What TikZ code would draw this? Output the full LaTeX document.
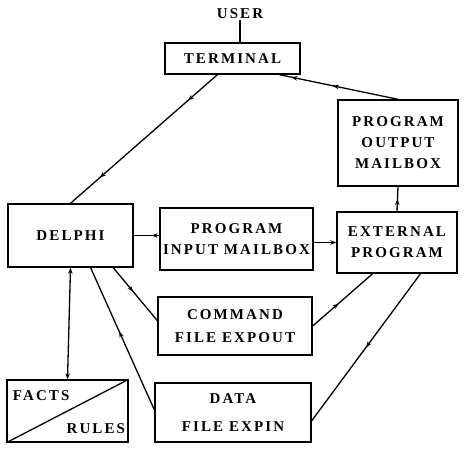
\documentclass[tikz,border=0pt]{standalone}
\usepackage{fontspec}
\setmainfont{Liberation Serif}[LetterSpace=14]
\usetikzlibrary{arrows.meta,decorations.markings}

\tikzset{
  lbl/.style={font=\bfseries\fontsize{15}{21}\selectfont, align=center, inner sep=0pt},
  box/.style={lbl, draw, line width=1.4pt},
  tick/.style={postaction={decorate, decoration={markings,
      mark=at position #1 with {\arrow{Stealth[length=6pt,width=4.5pt]}}}}},
  rtick/.style={postaction={decorate, decoration={markings,
      mark=at position #1 with {\arrowreversed{Stealth[length=6pt,width=4.5pt]}}}}},
}

\begin{document}
\begin{tikzpicture}[x=1pt, y=-1pt, line width=1.3pt]
   \useasboundingbox (0,0) rectangle (464,451);

   \node[lbl] (U) at (240,14) {USER};
   \node[box, minimum width=135pt, minimum height=31pt] (T)  at (232.5,58.5) {TERMINAL};
   \node[box, minimum width=120pt, minimum height=86pt] (OM) at (398,143) {PROGRAM\\OUTPUT\\MAILBOX};
   \node[box, minimum width=120pt, minimum height=61pt] (EP) at (397,242.5) {EXTERNAL\\PROGRAM};
   \node[box, minimum width=125pt, minimum height=63pt] (D)  at (70.5,235.5) {DELPHI};
   \node[box, minimum width=153pt, minimum height=62pt] (IM) at (236.5,239) {PROGRAM\\INPUT MAILBOX};
   \node[box, minimum width=154pt, minimum height=58pt] (CF) at (235,326) {COMMAND\\[2pt]FILE EXPOUT};
   \node[box, minimum width=156pt, minimum height=59pt] (DF) at (233,412.5) {DATA\\[7pt]FILE EXPIN};

   % facts and rules share one box, split by its diagonal
   \node[box, minimum width=121pt, minimum height=62pt] (FR) at (67.5,411) {};
   \draw (FR.south west) -- (FR.north east);
   \node[lbl, anchor=west] (FRf) at ([xshift=6pt, yshift=-16pt]FR.north west) {FACTS};
   \node[lbl, anchor=east] (FRr) at ([xshift=-3pt, yshift=14pt]FR.south east) {RULES};

   \draw (U.south) -- (U.south |- T.north);
   \draw[tick=0.2, tick=0.8] (T.227) -- (D.north);
   \draw[rtick=0.1, rtick=0.45] (T.341) -- (OM.north);
   \draw[tick=0.5] (EP.north) -- (OM.south);
   \draw[rtick=0.7] (D.east) -- (IM.west |- D.east);
   \draw[-{Stealth[length=6pt,width=4.5pt]}] (IM.east |- EP.west) -- (EP.west);
   \draw[{Stealth[length=6pt,width=4.5pt]}-{Stealth[length=6pt,width=4.5pt]}] (D.south) -- (FR.north);
   \draw[rtick=0.45] (D.302) -- (DF.178);
   \draw[tick=0.45] (D.323) -- (CF.176);
   \draw[tick=0.43] (CF.east) -- (EP.232);
   \draw[tick=0.5] (EP.307) -- (DF.354);
\end{tikzpicture}
\end{document}
